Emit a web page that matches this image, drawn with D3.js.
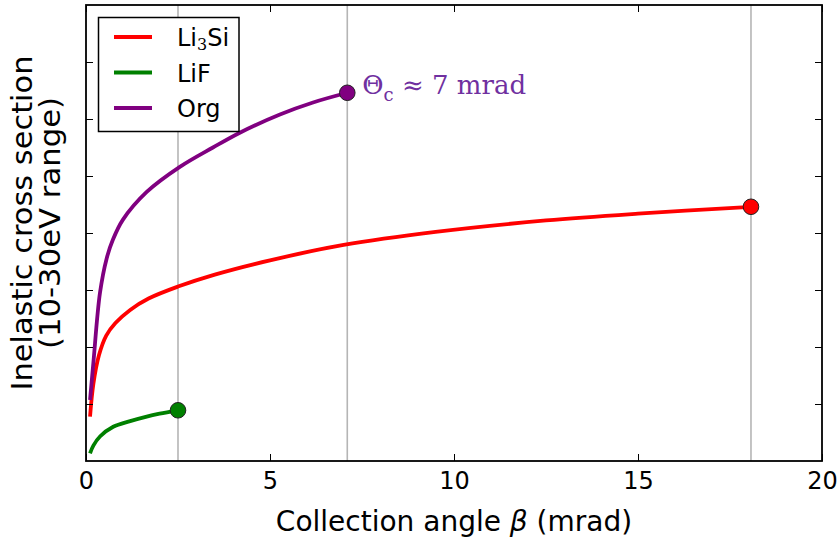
<!DOCTYPE html>
<html>
<head>
<meta charset="utf-8">
<script src="https://cdn.jsdelivr.net/npm/d3@7/dist/d3.min.js"></script>
<style>
  html, body { margin: 0; padding: 0; background: #fff; }
  svg { display: block; }
</style>
</head>
<body>
<svg id="chart" width="839" height="541"></svg>
<script>
// Collection angle (mrad) and inelastic cross section (arbitrary units)
const li3siBeta = [0.11, 0.2, 0.35, 0.55, 0.8, 1.2, 1.7, 2.5, 3.5, 5.0, 7.0, 9.5, 12.5, 15.0, 18.07];
const li3siSigma = [0.78, 1.35, 1.85, 2.2, 2.42, 2.65, 2.85, 3.06, 3.27, 3.52, 3.79, 4.02, 4.22, 4.34, 4.46];

const lifBeta = [0.11, 0.2, 0.38, 0.74, 1.2, 1.65, 2.0, 2.5];
const lifSigma = [0.135, 0.27, 0.43, 0.6, 0.7, 0.78, 0.83, 0.89];

const orgBeta = [0.11, 0.2, 0.38, 0.56, 0.73, 1.0, 1.65, 2.55, 3.45, 4.18, 5.27, 6.17, 7.1];
const orgSigma = [1.07, 1.72, 2.95, 3.55, 3.88, 4.23, 4.72, 5.16, 5.50, 5.76, 6.08, 6.29, 6.46];

const seriesNames = ["Li3Si", "LiF", "Org"];
const seriesColors = ["#ff0000", "#008000", "#800080"];
const cutoffAngles = [2.5, 7.1, 18.07];
const xTicks = [0, 5, 10, 15, 20];
const yTicks = [1, 2, 3, 4, 5, 6, 7];

const series = [
  { name: seriesNames[0], color: seriesColors[0], beta: li3siBeta, sigma: li3siSigma },
  { name: seriesNames[1], color: seriesColors[1], beta: lifBeta, sigma: lifSigma },
  { name: seriesNames[2], color: seriesColors[2], beta: orgBeta, sigma: orgSigma }
];

const svg = d3.select("#chart");
const m = { left: 86, right: 17, top: 5, bottom: 80 };
const W = 839, H = 541;
const x = d3.scaleLinear().domain([0, 20]).range([m.left, W - m.right]);
const y = d3.scaleLinear().domain([0, 8]).range([H - m.bottom, m.top]);

// Vertical guide lines at each curve's end angle
svg.append("g").selectAll("line").data(cutoffAngles).join("line")
  .attr("x1", d => x(d)).attr("x2", d => x(d))
  .attr("y1", y(0)).attr("y2", y(8))
  .attr("stroke", "#b5b5b5").attr("stroke-width", 1.6);

// Curves
const line = d3.line()
  .x(d => x(d[0])).y(d => y(d[1]))
  .curve(d3.curveCatmullRom.alpha(0.5));

series.forEach(s => {
  const pts = s.beta.map((b, i) => [b, s.sigma[i]]);
  svg.append("path").datum(pts)
    .attr("d", line)
    .attr("fill", "none")
    .attr("stroke", s.color)
    .attr("stroke-width", 3.8)
    .attr("stroke-linecap", "butt");
});

// End markers
series.forEach(s => {
  const n = s.beta.length - 1;
  svg.append("circle")
    .attr("cx", x(s.beta[n])).attr("cy", y(s.sigma[n]))
    .attr("r", 7.8)
    .attr("fill", s.color)
    .attr("stroke", "#222").attr("stroke-width", 1);
});

// Inward ticks on all four sides
const tickLen = 7;
const axisB = d3.axisBottom(x).tickValues(xTicks).tickSize(-tickLen).tickPadding(11).tickFormat(d3.format("d"));
const axisT = d3.axisTop(x).tickValues(xTicks).tickSize(-tickLen).tickFormat("");
const axisL = d3.axisLeft(y).tickValues(yTicks).tickSize(-tickLen).tickFormat("");
const axisR = d3.axisRight(y).tickValues(yTicks).tickSize(-tickLen).tickFormat("");

function styleAxis(g) {
  g.select(".domain").remove();
  g.selectAll(".tick line").attr("stroke", "#000").attr("stroke-width", 1);
  g.selectAll("text").attr("font-family", "DejaVu Sans").attr("font-size", 24).attr("fill", "#000");
}
svg.append("g").attr("transform", `translate(0,${y(0)})`).call(axisB).call(styleAxis);
svg.append("g").attr("transform", `translate(0,${y(8)})`).call(axisT).call(styleAxis);
svg.append("g").attr("transform", `translate(${x(0)},0)`).call(axisL).call(styleAxis);
svg.append("g").attr("transform", `translate(${x(20)},0)`).call(axisR).call(styleAxis);

// Frame
svg.append("rect")
  .attr("x", x(0)).attr("y", y(8))
  .attr("width", x(20) - x(0)).attr("height", y(0) - y(8))
  .attr("fill", "none").attr("stroke", "#000").attr("stroke-width", 1.8);

// Axis titles
const xt = svg.append("text")
  .attr("x", (x(0) + x(20)) / 2).attr("y", 531)
  .attr("text-anchor", "middle")
  .attr("font-family", "DejaVu Sans").attr("font-size", 28);
xt.append("tspan").text("Collection angle ");
xt.append("tspan").attr("font-style", "italic").text("β");
xt.append("tspan").text(" (mrad)");

const yCenter = 223;
svg.append("text")
  .attr("transform", `translate(32,${yCenter}) rotate(-90)`)
  .attr("text-anchor", "middle")
  .attr("font-family", "DejaVu Sans").attr("font-size", 28)
  .attr("textLength", 335).attr("lengthAdjust", "spacingAndGlyphs")
  .text("Inelastic cross section");
svg.append("text")
  .attr("transform", `translate(60,${yCenter}) rotate(-90)`)
  .attr("text-anchor", "middle")
  .attr("font-family", "DejaVu Sans").attr("font-size", 28)
  .attr("textLength", 252).attr("lengthAdjust", "spacingAndGlyphs")
  .text("(10-30eV range)");

// Legend
const lg = svg.append("g").attr("transform", "translate(98.5,17.5)");
lg.append("rect").attr("width", 140.5).attr("height", 114)
  .attr("fill", "#fff").attr("stroke", "#000").attr("stroke-width", 1.5);
series.forEach((s, i) => {
  const cy = 19.5 + i * 35.5;
  lg.append("line").attr("x1", 15.5).attr("x2", 53.5).attr("y1", cy).attr("y2", cy)
    .attr("stroke", s.color).attr("stroke-width", 3.8);
  const t = lg.append("text").attr("x", 78.5).attr("y", cy + 9)
    .attr("font-family", "DejaVu Sans").attr("font-size", 24);
  if (s.name === "Li3Si") {
    t.append("tspan").text("Li");
    t.append("tspan").attr("font-family", "DejaVu Serif").attr("font-size", 16).attr("dy", 4).text("3");
    t.append("tspan").attr("dy", -4).text("Si");
  } else {
    t.text(s.name);
  }
});

// Critical-angle annotation beside the Org end point
const orgEnd = orgBeta.length - 1;
const ann = svg.append("text")
  .attr("x", x(orgBeta[orgEnd]) + 15).attr("y", y(orgSigma[orgEnd]) + 1)
  .attr("font-family", "DejaVu Serif, serif")
  .attr("font-size", 26).attr("fill", "#7030a0");
ann.append("tspan").text("Θ");
ann.append("tspan").attr("font-size", 18).attr("dy", 7).text("c");
ann.append("tspan").attr("dy", -7).text(" ≈ 7 mrad");
</script>
</body>
</html>
